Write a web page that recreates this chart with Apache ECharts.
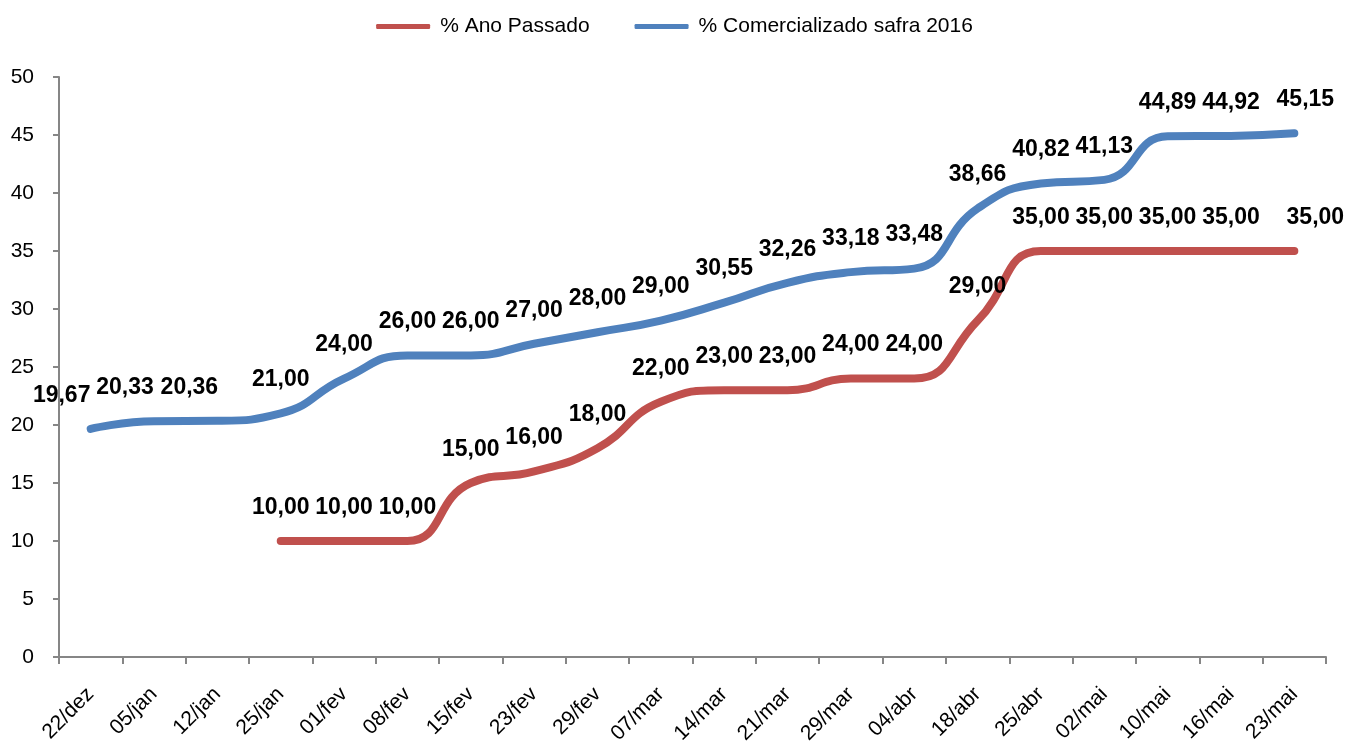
<!DOCTYPE html>
<html>
<head>
<meta charset="utf-8">
<title>Comercialização safra 2016</title>
<script src="https://cdn.jsdelivr.net/npm/echarts@6/dist/echarts.min.js"></script>
<style>
  html, body { margin: 0; padding: 0; background: #fff; }
  #chart { width: 1349px; height: 747px; }
</style>
</head>
<body>
<div id="chart"></div>
<script>
// categorias (datas)
var categorias = ["22/dez", "05/jan", "12/jan", "25/jan", "01/fev", "08/fev", "15/fev", "23/fev", "29/fev", "07/mar",
  "14/mar", "21/mar", "29/mar", "04/abr", "18/abr", "25/abr", "02/mai", "10/mai", "16/mai", "23/mai"];

// % Ano Passado (começa em 25/jan)
var anoPassado = [null, null, null, 10, 10, 10, 15, 16, 18, 22,
  23, 23, 24, 24, 29, 35, 35, 35, 35, 35];

// % Comercializado safra 2016
var safra2016 = [19.67, 20.33, 20.36, 21, 24, 26, 26, 27, 28, 29,
  30.55, 32.26, 33.18, 33.48, 38.66, 40.82, 41.13, 44.89, 44.92, 45.15];

var nomes = ["% Ano Passado", "% Comercializado safra 2016"];
var cores = ["#C0504D", "#4F81BD"];

var fonte = "'Liberation Sans', Arial, sans-serif";

function formataValor(p) {
  return p.value == null ? "" : Number(p.value).toFixed(2).replace(".", ",");
}

// alguns rótulos foram deslocados à mão no gráfico original
function serieLinha(nome, dados, cor, desloc) {
  var itens = dados.map(function (v, i) {
    if (desloc[i] == null) return v;
    return { value: v, label: { offset: [desloc[i], 0] } };
  });
  return {
    name: nome,
    type: "line",
    data: itens,
    smooth: 0.5,
    symbol: "circle",
    symbolSize: 0,
    showSymbol: true,
    connectNulls: false,
    lineStyle: { width: 8, color: cor, cap: "round", join: "round" },
    itemStyle: { color: cor },
    label: {
      show: true,
      position: "top",
      distance: 22,
      formatter: formataValor,
      fontFamily: fonte,
      fontWeight: "bold",
      fontSize: 23,
      color: "#000"
    },
    emphasis: { disabled: true }
  };
}

var chart = echarts.init(document.getElementById("chart"));

chart.setOption({
  animation: false,
  textStyle: { fontFamily: fonte },
  legend: {
    top: 11,
    left: "center",
    itemWidth: 54,
    itemHeight: 5,
    itemGap: 45,
    icon: "roundRect",
    textStyle: { fontFamily: fonte, fontSize: 21, color: "#000", padding: [0, 0, 0, 5] },
    data: nomes
  },
  grid: {
    left: 59,
    right: 23,
    top: 77,
    bottom: 90,
    containLabel: false
  },
  xAxis: {
    type: "category",
    boundaryGap: true,
    data: categorias,
    axisLine: { lineStyle: { color: "#868686", width: 2 } },
    axisTick: { show: true, length: 7, alignWithLabel: false, lineStyle: { color: "#868686", width: 2 } },
    axisLabel: {
      rotate: 45,
      interval: 0,
      margin: 34,
      fontFamily: fonte,
      fontSize: 21,
      color: "#000"
    },
    splitLine: { show: false }
  },
  yAxis: {
    type: "value",
    min: 0,
    max: 50,
    interval: 5,
    axisLine: { show: true, lineStyle: { color: "#868686", width: 2 } },
    axisTick: { show: true, length: 6, lineStyle: { color: "#868686", width: 2 } },
    axisLabel: {
      margin: 25,
      fontFamily: fonte,
      fontSize: 21,
      color: "#000"
    },
    splitLine: { show: false }
  },
  series: [
    serieLinha(nomes[0], anoPassado, cores[0], { 19: 21 }),
    serieLinha(nomes[1], safra2016, cores[1], { 0: -29, 1: -29, 2: -28, 19: 11 })
  ]
});
</script>
</body>
</html>
